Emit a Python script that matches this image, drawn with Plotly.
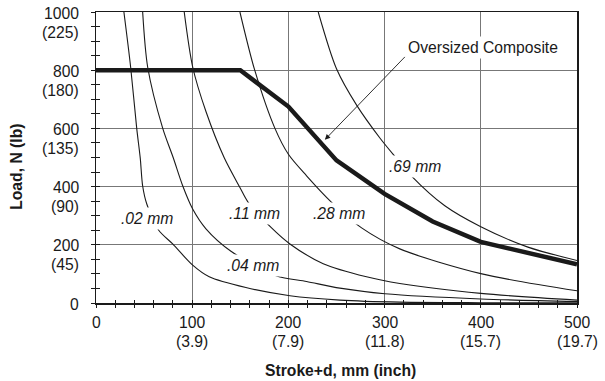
import plotly.graph_objects as go

# ---------------- data ----------------
x_02 = [29, 36, 42.3, 46, 48.5, 52.7, 65, 79.7, 100.5, 117.7, 155.8, 201.6, 253.5, 315.8, 400, 500]
y_02 = [1000, 811, 601, 498, 402, 341, 251, 203, 130, 90, 53, 25, 10, 3, 1, 0.3]

x_04 = [48.5, 53.7, 69.3, 80.3, 90.1, 100.5, 114.3, 140.3, 187.7, 218.9, 253.5, 300.3, 400, 500]
y_04 = [1000, 811, 601, 499, 403, 323, 255, 178, 93, 74, 51, 32, 14, 5]

x_11 = [91.7, 100.5, 114.3, 133.3, 149.6, 158.2, 182.5, 201.6, 236.2, 281.2, 315.8, 400, 500]
y_11 = [1000, 811, 658, 499, 397, 346, 258, 203, 135, 90, 67, 33, 10]

x_28 = [149.6, 165, 186, 200, 218.9, 244.9, 276.1, 315.8, 400, 500]
y_28 = [1000, 800, 600, 511, 437, 346, 258, 186, 101, 42]

x_69 = [231, 250, 270.9, 295.1, 310.6, 328, 362.6, 400, 449, 500]
y_69 = [1000, 805, 680, 567, 504, 436, 334, 262, 192, 146]

x_comp = [0, 150, 200, 250, 300, 350, 400, 450, 500]
y_comp = [800, 800, 675, 490, 375, 280, 210, 170, 133]

curve_labels = [".02 mm", ".04 mm", ".11 mm", ".28 mm", ".69 mm"]
label_x = [53.2, 162.8, 164.4, 252.8, 331.3]
label_y = [289, 130, 306, 306, 468]

x_tick_vals = [0, 100, 200, 300, 400, 500]
x_tick_mm = ["0", "100", "200", "300", "400", "500"]
x_tick_in = ["", "(3.9)", "(7.9)", "(11.8)", "(15.7)", "(19.7)"]

y_tick_vals = [0, 200, 400, 600, 800, 1000]
y_tick_n = ["0", "200", "400", "600", "800", "1000"]
y_tick_lb = ["", "(45)", "(90)", "(135)", "(180)", "(225)"]

comp_label = "Oversized Composite"
comp_label_pos = (402, 879)
arrow_tail = (322.6, 851)
arrow_head = (237.9, 561)

# ---------------- figure ----------------
FONT = "Liberation Sans, Arial, Helvetica, sans-serif"
FS = 15.7
INK = "#1a1a1a"
GRID = "#777777"

fig = go.Figure()
for xs, ys in [(x_02, y_02), (x_04, y_04), (x_11, y_11), (x_28, y_28), (x_69, y_69)]:
    fig.add_trace(go.Scatter(x=xs, y=ys, mode="lines",
                             line=dict(color=INK, width=1.1, shape="spline", smoothing=0.8),
                             showlegend=False, hoverinfo="skip"))
fig.add_trace(go.Scatter(x=x_comp, y=y_comp, mode="lines",
                         line=dict(color=INK, width=4.5),
                         showlegend=False, hoverinfo="skip"))
# dummy trace for the overlay axes that give the inward tick halves
fig.add_trace(go.Scatter(x=[None], y=[None], xaxis="x2", yaxis="y2",
                         showlegend=False, hoverinfo="skip"))

ann = []
for v, a, b in zip(y_tick_vals, y_tick_n, y_tick_lb):
    ann.append(dict(xref="paper", yref="y", x=0, y=v, xanchor="right", yanchor="middle",
                    xshift=-15, yshift=-1, text=a, showarrow=False))
    if b:
        ann.append(dict(xref="paper", yref="y", x=0, y=v, xanchor="right", yanchor="middle",
                        xshift=-15, yshift=-20, text=b, showarrow=False))
for v, a, b in zip(x_tick_vals, x_tick_mm, x_tick_in):
    ann.append(dict(xref="x", yref="paper", x=v, y=0, xanchor="center", yanchor="middle",
                    yshift=-19, text=a, showarrow=False))
    if b:
        ann.append(dict(xref="x", yref="paper", x=v, y=0, xanchor="center", yanchor="middle",
                        yshift=-38.5, text=b, showarrow=False))
for t, lx, ly in zip(curve_labels, label_x, label_y):
    ann.append(dict(xref="x", yref="y", x=lx, y=ly, text="<i>" + t + "</i>",
                    showarrow=False, bgcolor="white", borderpad=2))
ann.append(dict(xref="x", yref="y", x=arrow_head[0], y=arrow_head[1],
                axref="x", ayref="y", ax=arrow_tail[0], ay=arrow_tail[1],
                text="", showarrow=True, arrowhead=2, arrowsize=1.2, arrowwidth=0.9,
                arrowcolor=INK, standoff=0, startstandoff=0))
ann.append(dict(xref="x", yref="y", x=comp_label_pos[0], y=comp_label_pos[1],
                text=comp_label, showarrow=False, bgcolor="white", borderpad=2))
ann.append(dict(xref="paper", yref="paper", x=0.509, y=0, yshift=-67,
                xanchor="center", yanchor="middle",
                text="<b>Stroke+d, mm (inch)</b>", showarrow=False))
ann.append(dict(xref="paper", yref="paper", x=0, xshift=-79, y=0.468,
                xanchor="center", yanchor="middle", textangle=-90,
                text="<b>Load, N (lb)</b>", showarrow=False))

fig.update_layout(
    width=605, height=381,
    margin=dict(l=96, r=28, t=10, b=78),
    paper_bgcolor="white", plot_bgcolor="white",
    font=dict(family=FONT, size=FS, color=INK),
    showlegend=False,
    annotations=ann,
    xaxis=dict(range=[0, 500], tickmode="linear", tick0=0, dtick=100,
               showgrid=True, gridcolor=GRID, gridwidth=1,
               ticks="outside", ticklen=3, tickcolor=INK, tickwidth=1,
               minor=dict(tick0=0, dtick=20, ticks="outside", ticklen=3,
                          tickcolor=INK, tickwidth=1, showgrid=False),
               showticklabels=False, showline=True, linecolor=INK, linewidth=1.5,
               mirror=True, zeroline=False, fixedrange=True),
    yaxis=dict(range=[0, 1000], tickmode="linear", tick0=0, dtick=200,
               showgrid=True, gridcolor=GRID, gridwidth=1,
               ticks="outside", ticklen=3.5, tickcolor=INK, tickwidth=1,
               minor=dict(tick0=0, dtick=50, ticks="outside", ticklen=3.5,
                          tickcolor=INK, tickwidth=1, showgrid=False),
               showticklabels=False, showline=True, linecolor=INK, linewidth=1.5,
               mirror=True, zeroline=False, fixedrange=True),
    xaxis2=dict(overlaying="x", anchor="y", side="bottom", range=[0, 500],
                tickmode="linear", tick0=0, dtick=20, ticks="inside", ticklen=3,
                tickcolor=INK, tickwidth=1, showticklabels=False, showgrid=False,
                showline=False, zeroline=False, fixedrange=True),
    yaxis2=dict(overlaying="y", anchor="x", side="left", range=[0, 1000],
                tickmode="linear", tick0=0, dtick=50, ticks="inside", ticklen=3.5,
                tickcolor=INK, tickwidth=1, showticklabels=False, showgrid=False,
                showline=False, zeroline=False, fixedrange=True),
)

# remove the page's default 8px body margin so the figure sits at the window's top-left
fig.write_html("out.html",
               config={"displayModeBar": False, "staticPlot": True},
               post_script="document.body.style.margin='0';document.body.style.overflow='hidden';")
